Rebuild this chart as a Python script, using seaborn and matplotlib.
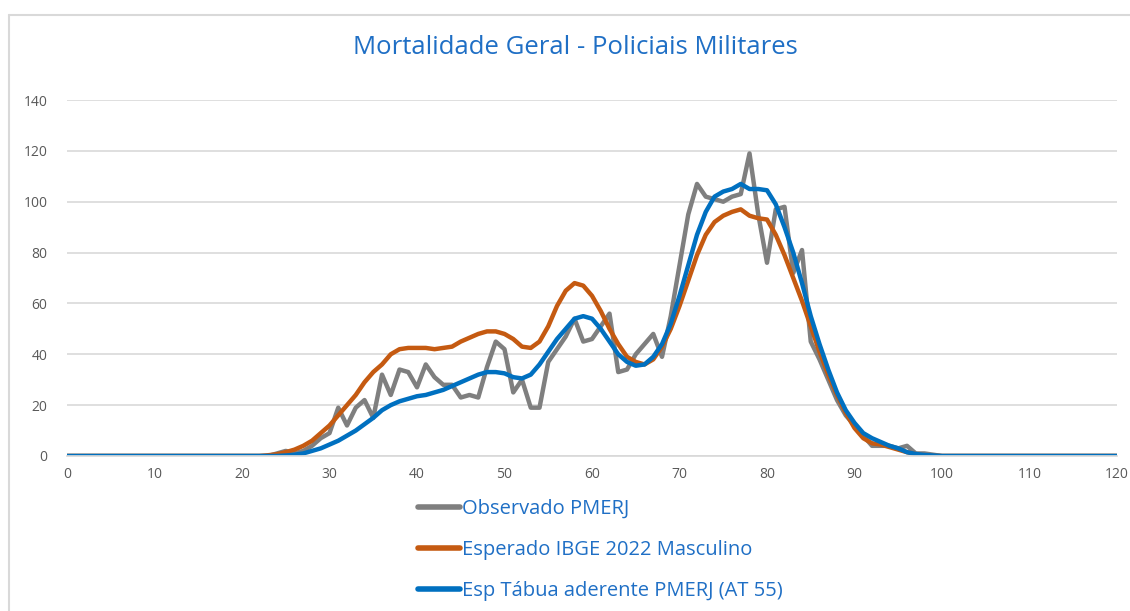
import numpy as np
import pandas as pd
import matplotlib.pyplot as plt
import seaborn as sns
from matplotlib.lines import Line2D

# Ages 0..120
ages = list(range(0, 121))

# Observed deaths (gray)
observado = ([0] * 24 +
             [1, 2, 1, 2, 4, 7, 9, 19, 12, 19, 22, 15, 32, 24, 34, 33, 27, 36, 31, 28,
              28, 23, 24, 23, 35, 45, 42, 25, 30, 19, 19, 37, 42, 47, 54, 45, 46, 51, 56, 33,
              34, 40, 44, 48, 39, 55, 75, 95, 107, 102, 101, 100, 102, 103, 119, 95, 76, 97, 98, 72,
              81, 45, 38, 30, 22, 16, 12, 8, 4, 4, 4, 3, 4, 1, 1, 0.5] +
             [0] * 21)

# Expected IBGE 2022 male (orange)
esperado_ibge = ([0] * 23 +
                 [0.3, 0.7, 1.5, 2.5, 4, 6, 9, 12, 16, 20, 24, 29, 33, 36, 40, 42, 42.5, 42.5, 42.5,
                  42, 42.5, 43, 45, 46.5, 48, 49, 49, 48, 46, 43, 42.5, 45, 51, 59, 65, 68, 67, 63,
                  57, 50, 44, 39, 37, 36, 38, 43, 50, 59, 69, 79, 87, 92, 94.5, 96, 97, 94.5, 93.5,
                  93, 87, 79, 70, 61, 51, 41, 32, 24, 17, 11, 7, 5, 4.5, 3.5, 2.5, 1.5, 0.7, 0.3, 0.1] +
                 [0] * 21)

# Expected AT 55 adherent table (blue)
esp_at55 = ([0] * 25 +
            [0.2, 0.5, 1, 2, 3, 4.5, 6, 8, 10, 12.5, 15, 18, 20, 21.5, 22.5, 23.5, 24, 25, 26,
             27.5, 29, 30.5, 32, 33, 33, 32.5, 31, 30.5, 32, 36, 41, 46, 50, 54, 55, 54, 50, 45,
             40, 37, 35.5, 36, 39, 44, 52, 63, 75, 87, 96, 102, 104, 105, 107, 105, 105, 104.5,
             99, 90, 80, 68, 55, 44, 34, 25, 18, 13, 9, 7, 5.5, 4, 3, 1.5, 0.8, 0.4, 0.2] +
            [0] * 21)

series_names = ['Observado PMERJ', 'Esperado IBGE 2022 Masculino', 'Esp Tábua aderente PMERJ (AT 55)']
series_colors = ['#7f7f7f', '#c55a11', '#0070c0']

df = pd.DataFrame({
    'Idade': ages * 3,
    'Valor': observado + esperado_ibge + esp_at55,
    'Serie': [series_names[0]] * len(ages) + [series_names[1]] * len(ages) + [series_names[2]] * len(ages),
})

sns.set_theme(style='white')
plt.rcParams['font.family'] = ['Open Sans', 'DejaVu Sans']

fig = plt.figure(figsize=(11.3, 6.11), dpi=100)
ax = fig.add_axes([0.0593, 0.2537, 0.9292, 0.5826])

sns.lineplot(data=df, x='Idade', y='Valor', hue='Serie', hue_order=series_names,
             palette=series_colors, linewidth=3.2, ax=ax, legend=False)

ax.set_xlim(0, 120)
ax.set_ylim(0, 140)
ax.set_xticks(range(0, 121, 10))
ax.set_yticks(range(0, 141, 20))
ax.yaxis.grid(True, color='#d9d9d9', linewidth=1.2)
ax.set_axisbelow(True)
for side in ['top', 'right', 'left']:
    ax.spines[side].set_visible(False)
ax.spines['bottom'].set_color('#d9d9d9')
ax.tick_params(axis='both', colors='#595959', labelsize=10, length=0)
ax.tick_params(axis='x', pad=8)
ax.tick_params(axis='y', pad=14)
ax.set_xlabel('')
ax.set_ylabel('')

fig.text(0.509, 0.922, 'Mortalidade Geral - Policiais Militares', ha='center', va='center',
         fontsize=18.5, color='#1f6fc5')

handles = [Line2D([0], [0], color=c, linewidth=4, solid_capstyle='round') for c in series_colors]
leg = fig.legend(handles, series_names, loc='upper left', bbox_to_anchor=(0.354, 0.213),
                 frameon=False, fontsize=14.5, handlelength=2.1, handletextpad=0.1,
                 labelspacing=1.04, labelcolor='#1f6fc5')

# chart frame border (top and left)
fig.add_artist(Line2D([9 / 1130, 1.0], [1 - 15 / 611, 1 - 15 / 611], color='#d9d9d9', linewidth=1.5))
fig.add_artist(Line2D([9 / 1130, 9 / 1130], [0, 1 - 15 / 611], color='#d9d9d9', linewidth=1.5))

plt.savefig('out.png', dpi=100)
